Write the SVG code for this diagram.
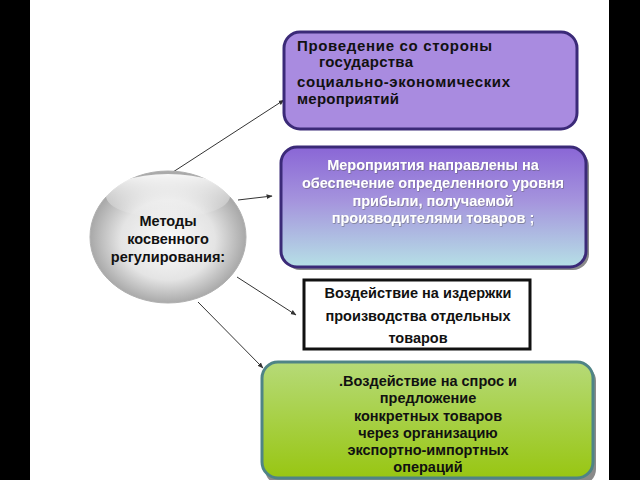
<svg xmlns="http://www.w3.org/2000/svg" width="640" height="480" viewBox="0 0 640 480">
<defs>
<radialGradient id="gCircle" cx="0.5" cy="0.5" r="0.55" fx="0.5" fy="0.55">
<stop offset="0" stop-color="#fbfbfb"/>
<stop offset="0.55" stop-color="#e4e4e4"/>
<stop offset="1" stop-color="#999999"/>
</radialGradient>
<linearGradient id="gHi" x1="0" y1="0" x2="0" y2="1">
<stop offset="0" stop-color="#ffffff" stop-opacity="0.9"/>
<stop offset="1" stop-color="#ffffff" stop-opacity="0"/>
</linearGradient>
<linearGradient id="gBox2" x1="0" y1="0" x2="0" y2="1">
<stop offset="0" stop-color="#8a66d6"/>
<stop offset="0.45" stop-color="#a594dd"/>
<stop offset="1" stop-color="#b6e0e6"/>
</linearGradient>
<linearGradient id="gBox4" x1="0" y1="0" x2="0" y2="1">
<stop offset="0" stop-color="#b6da78"/>
<stop offset="1" stop-color="#98c612"/>
</linearGradient>
<filter id="tsh" x="-5%" y="-20%" width="110%" height="140%">
<feDropShadow dx="0.6" dy="0.8" stdDeviation="0.5" flood-color="#555" flood-opacity="0.6"/>
</filter>
<marker id="arr" viewBox="0 0 10 10" refX="9" refY="5" markerWidth="6" markerHeight="6" orient="auto" markerUnits="userSpaceOnUse">
<path d="M0,1 L10,5 L0,9 z" fill="#333"/>
</marker>
</defs>
<style>
text{font-family:"Liberation Sans",Arial,sans-serif;font-weight:bold;font-size:14.5px}
.c{text-anchor:middle}
.w{fill:#ffffff}
.k{fill:#111111}
.b1{font-size:15px}
.con{stroke:#333;stroke-width:1;fill:none;marker-end:url(#arr)}
</style>
<rect x="0" y="0" width="640" height="480" fill="#ffffff"/>
<rect x="0" y="0" width="30" height="480" fill="#000000"/>
<rect x="609" y="0" width="31" height="480" fill="#000000"/>

<g id="connectors">
<line class="con" x1="173" y1="172" x2="284" y2="100"/>
<line class="con" x1="238" y1="200" x2="272" y2="196"/>
<line class="con" x1="237" y1="277" x2="296" y2="315"/>
<line class="con" x1="198" y1="302" x2="263" y2="368"/>
</g>

<g id="node-center">
<ellipse cx="168" cy="237" rx="78" ry="66" fill="url(#gCircle)" stroke="#b0b0b0" stroke-width="1"/>
<ellipse cx="168" cy="196" rx="62" ry="22" fill="url(#gHi)"/>
<text class="c k" x="168" y="226">Методы</text>
<text class="c k" x="168" y="244">косвенного</text>
<text class="c k" x="168" y="262">регулирования:</text>
</g>

<g id="node-1">
<rect x="284" y="32" width="293" height="97" rx="16" fill="#a98be0" stroke="#3b2a78" stroke-width="3"/>
<text class="k b1" x="297" y="51" textLength="195" lengthAdjust="spacing">Проведение со стороны</text>
<text class="k b1" x="319" y="67" textLength="94" lengthAdjust="spacing">государства</text>
<text class="k b1" x="297" y="87" textLength="213" lengthAdjust="spacing">социально-экономических</text>
<text class="k b1" x="297" y="104" textLength="102" lengthAdjust="spacing">мероприятий</text>
</g>

<g id="node-2">
<rect x="284" y="150" width="305" height="120" rx="16" fill="#8a8a8a"/>
<rect x="281" y="147" width="305" height="120" rx="16" fill="url(#gBox2)" stroke="#3b2a78" stroke-width="3"/>
<g filter="url(#tsh)">
<text class="c w" x="433" y="170" font-size="12.7">Мероприятия направлены на</text>
<text class="c w" x="433" y="188" font-size="12.7">обеспечение определенного уровня</text>
<text class="c w" x="433" y="206" font-size="12.7">прибыли, получаемой</text>
<text class="c w" x="433" y="223" font-size="12.7">производителями товаров ;</text>
</g>
</g>

<g id="node-3">
<rect x="304" y="280" width="226" height="69" fill="#ffffff" stroke="#111111" stroke-width="3"/>
<text class="c k" x="418" y="298" font-size="14.6">Воздействие на издержки</text>
<text class="c k" x="418" y="321" font-size="14.6">производства отдельных</text>
<text class="c k" x="418" y="343" font-size="14.6">товаров</text>
</g>

<g id="node-4">
<rect x="265" y="365" width="331" height="120" rx="16" fill="#8a8a8a"/>
<rect x="262" y="362" width="331" height="116" rx="16" fill="url(#gBox4)" stroke="#4f8486" stroke-width="3"/>
<text class="c k" x="428" y="386">.Воздействие на спрос и</text>
<text class="c k" x="428" y="403">предложение</text>
<text class="c k" x="428" y="421">конкретных товаров</text>
<text class="c k" x="428" y="438">через организацию</text>
<text class="c k" x="428" y="455">экспортно-импортных</text>
<text class="c k" x="428" y="472">операций</text>
</g>
</svg>
